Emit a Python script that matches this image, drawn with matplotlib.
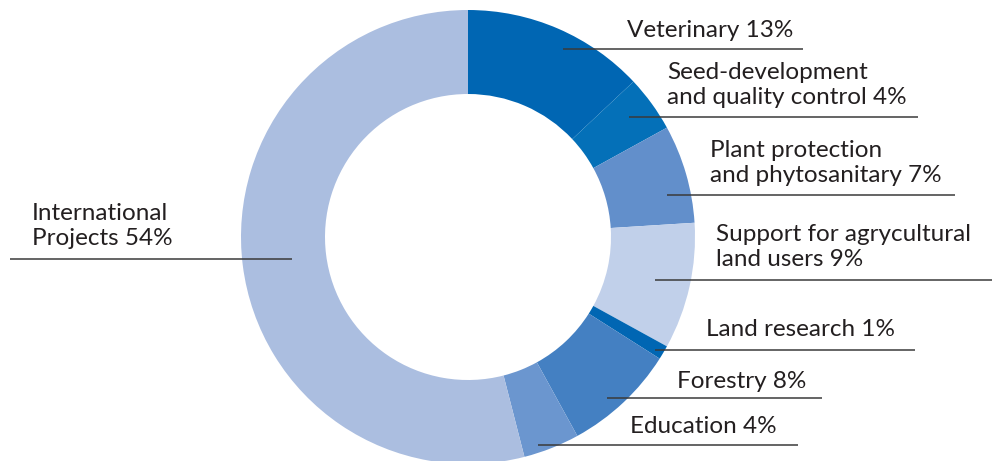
import matplotlib.pyplot as plt

# data
labels = ["Veterinary 13%", "Seed-development\nand quality control 4%",
          "Plant protection\nand phytosanitary 7%", "Support for agrycultural\nland users 9%",
          "Land research 1%", "Forestry 8%", "Education 4%", "International\nProjects 54%"]
shares = [13, 4, 7, 9, 1, 8, 4, 54]
colors = ["#0066b3", "#0470b8", "#628fcb", "#c1d0ea", "#0066b3", "#4480c2", "#6b96cf", "#abbee0"]

# label layout in pixels (text x, text centre y) and (line x0, x1, y)
text_xy = [(627, 31), (667, 85), (710, 163), (716, 247), (706, 330), (677, 381), (630, 426), (32, 226)]
line_pos = [(563, 803, 49), (629, 918, 117), (667, 955, 195), (655, 992, 280),
            (655, 915, 350), (607, 822, 398), (538, 798, 445), (10, 292, 259)]

H = 461
fig = plt.figure(figsize=(9.92, 4.61), dpi=100)
ax = fig.add_axes([0, 0, 1, 1])

ax.pie(shares, colors=colors, startangle=90, counterclock=False,
       center=(468, H - 237), radius=227,
       wedgeprops=dict(width=84, edgecolor="none"))

for lab, (tx, ty), (x0, x1, ly) in zip(labels, text_xy, line_pos):
    ax.text(tx, H - ty, lab, fontsize=17.5, family="Lato", color="#231f20",
            ha="left", va="center", linespacing=1.2)
    ax.plot([x0, x1], [H - ly, H - ly], color="#3a3a3a", lw=1.1, solid_capstyle="butt")

ax.set_xlim(0, 992)
ax.set_ylim(0, H)
ax.set_aspect("auto")
ax.axis("off")

plt.savefig("out.png", dpi=100)
